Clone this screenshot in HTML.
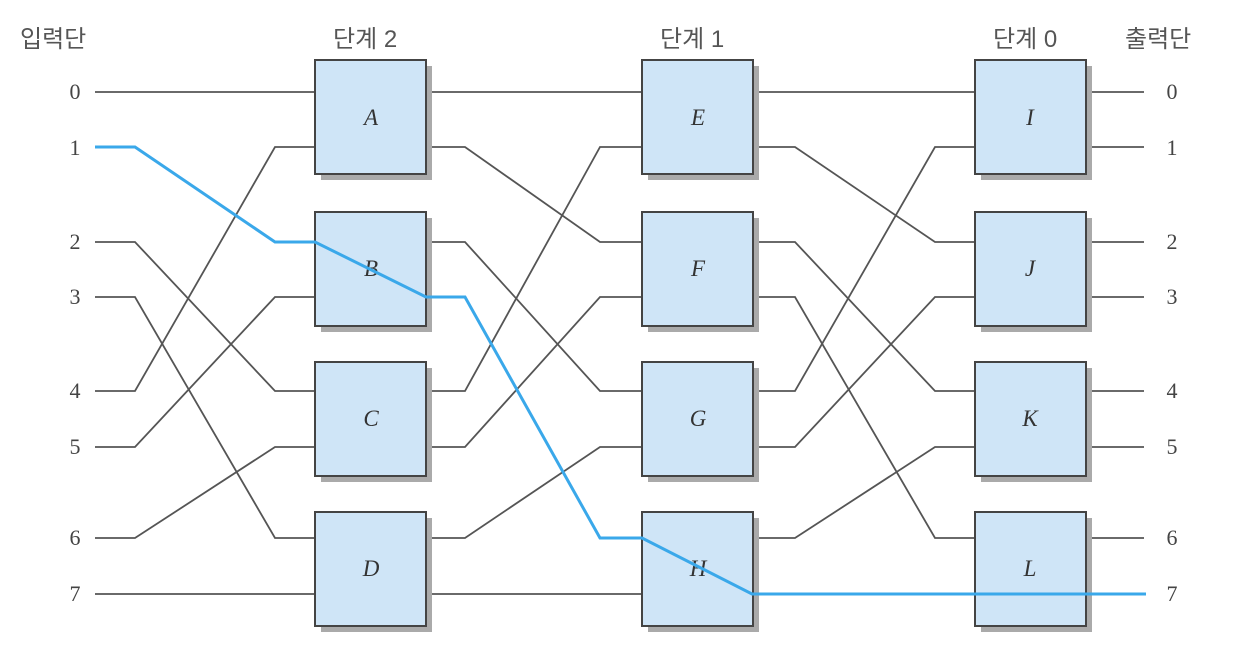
<!DOCTYPE html>
<html><head><meta charset="utf-8"><style>
html,body{margin:0;padding:0;background:#fff;}
svg{display:block;}
.k{font-family:"Liberation Sans","Noto Sans CJK KR",sans-serif;font-size:24px;fill:#555;}
.n{font-family:"Liberation Serif",serif;font-size:22px;fill:#444;}
.b{font-family:"Liberation Serif",serif;font-size:23px;font-style:italic;fill:#333;}
</style></head><body>
<svg width="1242" height="656" viewBox="0 0 1242 656" xmlns="http://www.w3.org/2000/svg">
<text class="k" x="20" y="47">입력단</text>
<text class="k" x="333" y="47">단계 2</text>
<text class="k" x="660" y="47">단계 1</text>
<text class="k" x="993" y="47">단계 0</text>
<text class="k" x="1125" y="47">출력단</text>
<g class="n" text-anchor="middle">
<text x="75" y="99">0</text><text x="75" y="155">1</text><text x="75" y="249">2</text><text x="75" y="304">3</text>
<text x="75" y="398">4</text><text x="75" y="454">5</text><text x="75" y="545">6</text><text x="75" y="601">7</text>
<text x="1172" y="99">0</text><text x="1172" y="155">1</text><text x="1172" y="249">2</text><text x="1172" y="304">3</text>
<text x="1172" y="398">4</text><text x="1172" y="454">5</text><text x="1172" y="545">6</text><text x="1172" y="601">7</text>
</g>
<g fill="none" stroke="#555" stroke-width="1.8">
<!-- input shuffle -->
<polyline points="95,92 315,92"/>
<polyline points="95,242 135,242 275,391 315,391"/>
<polyline points="95,297 135,297 275,538 315,538"/>
<polyline points="95,391 135,391 275,147 315,147"/>
<polyline points="95,447 135,447 275,297 315,297"/>
<polyline points="95,538 135,538 275,447 315,447"/>
<polyline points="95,594 315,594"/>
<!-- stage2 -> stage1 -->
<polyline points="426,92 642,92"/>
<polyline points="426,147 465,147 600,242 642,242"/>
<polyline points="426,242 465,242 600,391 642,391"/>
<polyline points="426,391 465,391 600,147 642,147"/>
<polyline points="426,447 465,447 600,297 642,297"/>
<polyline points="426,538 465,538 600,447 642,447"/>
<polyline points="426,594 642,594"/>
<!-- stage1 -> stage0 -->
<polyline points="752,92 975,92"/>
<polyline points="752,147 795,147 935,242 975,242"/>
<polyline points="752,242 795,242 935,391 975,391"/>
<polyline points="752,297 795,297 935,538 975,538"/>
<polyline points="752,391 795,391 935,147 975,147"/>
<polyline points="752,447 795,447 935,297 975,297"/>
<polyline points="752,538 795,538 935,447 975,447"/>
<!-- outputs -->
<polyline points="1086,92 1144,92"/><polyline points="1086,147 1144,147"/>
<polyline points="1086,242 1144,242"/><polyline points="1086,297 1144,297"/>
<polyline points="1086,391 1144,391"/><polyline points="1086,447 1144,447"/>
<polyline points="1086,538 1144,538"/>
</g>
<g>
<g fill="#aaa">
<rect x="321" y="66" width="111" height="114"/><rect x="321" y="218" width="111" height="114"/>
<rect x="321" y="368" width="111" height="114"/><rect x="321" y="518" width="111" height="114"/>
<rect x="648" y="66" width="111" height="114"/><rect x="648" y="218" width="111" height="114"/>
<rect x="648" y="368" width="111" height="114"/><rect x="648" y="518" width="111" height="114"/>
<rect x="981" y="66" width="111" height="114"/><rect x="981" y="218" width="111" height="114"/>
<rect x="981" y="368" width="111" height="114"/><rect x="981" y="518" width="111" height="114"/>
</g>
<g fill="#cfe5f7" stroke="#444" stroke-width="2">
<rect x="315" y="60" width="111" height="114"/><rect x="315" y="212" width="111" height="114"/>
<rect x="315" y="362" width="111" height="114"/><rect x="315" y="512" width="111" height="114"/>
<rect x="642" y="60" width="111" height="114"/><rect x="642" y="212" width="111" height="114"/>
<rect x="642" y="362" width="111" height="114"/><rect x="642" y="512" width="111" height="114"/>
<rect x="975" y="60" width="111" height="114"/><rect x="975" y="212" width="111" height="114"/>
<rect x="975" y="362" width="111" height="114"/><rect x="975" y="512" width="111" height="114"/>
</g>
</g>
<g class="b" text-anchor="middle">
<text x="371" y="125">A</text><text x="371" y="276">B</text><text x="371" y="426">C</text><text x="371" y="576">D</text>
<text x="698" y="125">E</text><text x="698" y="276">F</text><text x="698" y="426">G</text><text x="698" y="576">H</text>
<text x="1030" y="125">I</text><text x="1030" y="276">J</text><text x="1030" y="426">K</text><text x="1030" y="576">L</text>
</g>
<polyline fill="none" stroke="#3aa8ea" stroke-width="3" points="95,147 135,147 275,242 315,242 426,297 465,297 600,538 642,538 752,594 1146,594"/>
</svg>
</body></html>
